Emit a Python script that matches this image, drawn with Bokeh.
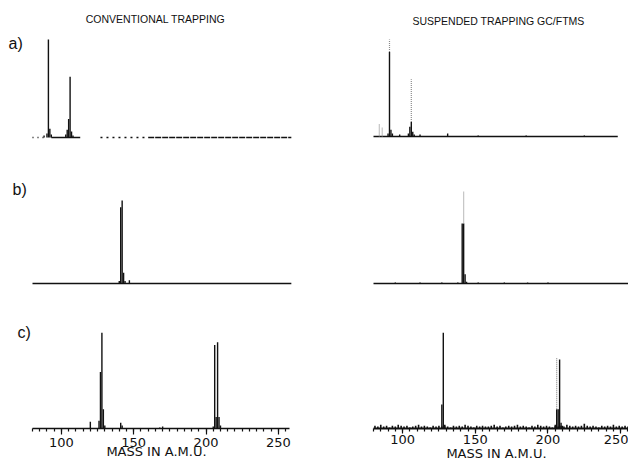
from bokeh.plotting import figure
from bokeh.layouts import column, row
from bokeh.models import Range1d, LinearAxis, FixedTicker, ColumnDataSource
from bokeh.embed import file_html
from bokeh.resources import INLINE
from bokeh.core.properties import value

# ---------------- data ----------------
MASS_MIN = 80
MASS_MAX_LEFT = 259
MASS_MAX_RIGHT = 256

column_titles = ["CONVENTIONAL TRAPPING", "SUSPENDED TRAPPING GC/FTMS"]
row_labels = ["a)", "b)", "c)"]
major_ticks = [100, 150, 200, 250]
minor_ticks = list(range(80, 260, 5))
x_axis_title = "MASS IN A.M.U."

# conventional trapping (relative intensity, %)
conv_a_mass = [88, 90, 91, 92, 93, 103, 104, 105, 106, 107, 108]
conv_a_int = [2, 4, 100, 9, 3, 3, 8, 19, 62, 6, 2]
conv_a_base_start = [80, 93, 127, 160]
conv_a_base_end = [89, 113, 160, 259]

conv_b_mass = [140, 141, 142, 143, 144, 147]
conv_b_int = [3, 92, 100, 13, 3, 4]

conv_c_mass = [120, 126, 127, 128, 129, 130, 141, 142, 168, 170, 205, 206, 207, 208, 209, 210]
conv_c_int = [7, 8, 59, 100, 20, 3, 6, 3, 1, 2, 2, 87, 12, 90, 12, 3]

# suspended trapping: solid part and faint (dotted) top of each line
susp_a_mass = [84, 86, 90, 91, 92, 93, 98, 104, 105, 106, 107, 108, 112, 131, 152, 185, 225]
susp_a_solid = [0, 0, 3, 87, 7, 3, 2, 3, 10, 15, 5, 2, 2, 3, 1, 1, 1]
susp_a_top = [13, 9, 3, 100, 7, 3, 2, 3, 10, 59, 5, 2, 2, 3, 1, 1, 1]

susp_b_mass = [95, 112, 127, 138, 141, 142, 143, 144, 152, 170, 186, 200]
susp_b_solid = [1, 1, 1, 1, 65, 65, 10, 2, 1, 1, 1, 1]
susp_b_top = [1, 1, 1, 1, 65, 100, 10, 2, 1, 1, 1, 1]

susp_c_mass = [127, 128, 129, 205, 206, 207, 208, 209, 210]
susp_c_solid = [25, 100, 3, 4, 20, 20, 72, 6, 3]
susp_c_top = [25, 100, 3, 4, 74, 20, 72, 6, 3]

susp_c_noise_mass = list(range(81, 257, 2))
susp_c_noise = [3, 2, 4, 2, 3, 1, 3, 2, 4, 3, 2, 3, 1, 2, 3, 4, 2, 3, 2, 1, 3, 2, 3, 2, 4, 2, 1, 3, 2, 3,
                2, 4, 3, 2, 1, 3, 2, 3, 2, 2, 3, 4, 2, 3, 1, 2, 3, 2, 3, 4, 2, 3, 2, 1, 3, 2, 4, 3, 2, 3,
                2, 1, 3, 2, 3, 2, 4, 3, 2, 3, 2, 3, 5, 3, 2, 3, 2, 1, 3, 2, 3, 2, 4, 2, 3, 2, 3, 2]

# ---------------- layout ----------------
INK = "#111111"
FAINT = "#8a8a8a"
TXT_FONT = "Liberation Sans"
AX_FONT = "DejaVu Sans"


def make_panel(width, height, x80_px, ppa, base_px, full_px, border=0, border_left=0):
    fh = height - border
    fw = width - border_left
    x0 = MASS_MIN - (x80_px - border_left) / ppa
    x1 = x0 + fw / ppa
    ppu = full_px / 100.0
    y0 = -(fh - base_px) / ppu
    y1 = base_px / ppu
    p = figure(width=width, height=height, x_range=Range1d(x0, x1), y_range=Range1d(y0, y1),
               x_axis_type=None, y_axis_type=None, toolbar_location=None,
               output_backend="svg", min_border=0, min_border_bottom=border,
               min_border_left=border_left)
    p.outline_line_color = None
    p.background_fill_color = "white"
    p.border_fill_color = "white"

    def to_data(px, py):
        return x0 + (px - border_left) / ppa, (base_px - py) / ppu
    return p, to_data


def add_text(p, to_data, px, py, txt, size, align, font=TXT_FONT):
    x, y = to_data(px, py)
    p.text(x=[x], y=[y], text=[txt], text_font=value(font), text_font_size=value(size),
           text_align=align, text_baseline="middle", text_color=INK)


def draw_conv(p, mass, inten):
    src = ColumnDataSource(dict(m=mass, t=inten, b=[0] * len(mass)))
    p.segment(x0="m", y0="b", x1="m", y1="t", source=src, line_color=INK, line_width=1.4)


def draw_susp(p, mass, solid, top):
    src = ColumnDataSource(dict(m=mass, s=solid, b=[0] * len(mass)))
    p.segment(x0="m", y0="b", x1="m", y1="s", source=src, line_color=INK, line_width=1.4)
    fm = [m for m, s, t in zip(mass, solid, top) if t > s]
    fs = [s for m, s, t in zip(mass, solid, top) if t > s]
    ft = [t for m, s, t in zip(mass, solid, top) if t > s]
    fsrc = ColumnDataSource(dict(m=fm, s=fs, t=ft))
    p.segment(x0="m", y0="s", x1="m", y1="t", source=fsrc, line_color=FAINT,
              line_width=1.2, line_dash="1 1")


def baseline(p, x0, x1, width=1.3, dash="solid", color=INK):
    p.segment(x0=[x0], y0=[0], x1=[x1], y1=[0], line_color=color, line_width=width, line_dash=dash)


def add_axis(p, end, tick_out, minor_out, lab_standoff, title_standoff, lw):
    ax = LinearAxis(ticker=FixedTicker(ticks=major_ticks, minor_ticks=minor_ticks),
                    bounds=(MASS_MIN, end), axis_label=x_axis_title,
                    axis_label_standoff=title_standoff,
                    axis_label_text_font=AX_FONT, axis_label_text_font_size="13px",
                    axis_label_text_font_style="normal", axis_label_text_color=INK,
                    major_label_text_font=AX_FONT, major_label_text_font_size="13px",
                    major_label_text_color=INK, major_label_standoff=lab_standoff,
                    major_tick_in=0, major_tick_out=tick_out,
                    minor_tick_in=0, minor_tick_out=minor_out,
                    axis_line_width=lw, axis_line_color=INK,
                    major_tick_line_color=INK, minor_tick_line_color=INK,
                    major_tick_line_width=1.2, minor_tick_line_width=1.2)
    p.add_layout(ax, "below")


LW, RW = 300, 328
L_X80, L_PPA = 32, 1.446
R_X80, R_PPA = 73, 1.454

# row a
la, la_t = make_panel(LW, 145, L_X80, L_PPA, 137, 98)
ra, ra_t = make_panel(RW, 145, R_X80, R_PPA, 136, 97)
# row b
lb, lb_t = make_panel(LW, 150, L_X80, L_PPA, 138, 83)
rb, rb_t = make_panel(RW, 150, R_X80, R_PPA, 138, 92.3)
# row c (left border keeps the axis title centred like the original)
lc, lc_t = make_panel(LW, 169, L_X80, L_PPA, 136, 98, border=33, border_left=12)
rc, rc_t = make_panel(RW, 169, R_X80, R_PPA, 133, 95.7, border=36, border_left=64)

# baselines
dashes = ["1 4", "solid", "2 4", "6 1"]
for s, e, d in zip(conv_a_base_start, conv_a_base_end, dashes):
    baseline(la, s, e, width=1.4, dash=d)
baseline(ra, MASS_MIN, 248, width=1.6)
baseline(lb, MASS_MIN, MASS_MAX_LEFT, width=1.4)
baseline(rb, MASS_MIN, MASS_MAX_RIGHT, width=1.6)

# spectra
draw_conv(la, conv_a_mass, conv_a_int)
draw_conv(lb, conv_b_mass, conv_b_int)
draw_conv(lc, conv_c_mass, conv_c_int)
draw_susp(ra, susp_a_mass, susp_a_solid, susp_a_top)
draw_susp(rb, susp_b_mass, susp_b_solid, susp_b_top)
nsrc = ColumnDataSource(dict(m=susp_c_noise_mass, t=susp_c_noise, b=[0] * len(susp_c_noise)))
rc.segment(x0="m", y0="b", x1="m", y1="t", source=nsrc, line_color=INK, line_width=1.6)
draw_susp(rc, susp_c_mass, susp_c_solid, susp_c_top)

# axes
add_axis(lc, 258, 6, 3, 3, -6, 1.5)
add_axis(rc, MASS_MAX_RIGHT, 5, 3, 1, -1, 2.2)

# texts
add_text(la, la_t, 155, 18, column_titles[0], "10.5px", "center")
add_text(ra, ra_t, 198, 20, column_titles[1], "10.5px", "center")
add_text(la, la_t, 8, 43, row_labels[0], "16px", "left")
add_text(lb, lb_t, 12, 44, row_labels[1], "16px", "left")
add_text(lc, lc_t, 17, 38, row_labels[2], "16px", "left")

layout = column(row(la, ra), row(lb, rb), row(lc, rc))
open("out.html", "w").write(file_html(layout, INLINE))
